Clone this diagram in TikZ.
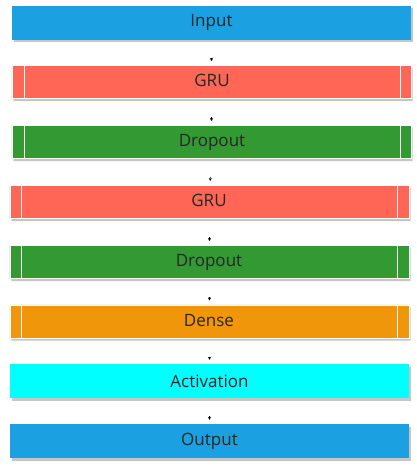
\documentclass[tikz,border=0pt]{standalone}
\usepackage{fontspec}
\setmainfont{Open Sans}
\usetikzlibrary{shapes,shadows,arrows.meta}
\definecolor{inblue}{RGB}{27,161,226}
\definecolor{grured}{RGB}{255,102,85}
\definecolor{dropgreen}{RGB}{51,153,51}
\definecolor{denseorange}{RGB}{240,150,10}
\definecolor{actcyan}{RGB}{0,255,255}

\begin{document}
\begin{tikzpicture}[x=1pt,y=-1pt,shorten >=4pt,shorten <=18pt,auto]
\tikzstyle{layer}=[rectangle,draw=none,minimum width=399pt,minimum height=34pt,inner sep=0pt,font=\fontsize{17}{19}\selectfont,text=black!85,drop shadow={shadow xshift=1.5pt,shadow yshift=-2.5pt,opacity=0.45}]
\tikzstyle{lsplit}=[rectangle split,rectangle split horizontal,rectangle split parts=3,draw=white,line width=0.6pt,inner sep=0pt,font=\fontsize{17}{19}\selectfont,text=black!85,drop shadow={shadow xshift=1.5pt,shadow yshift=-2.5pt,opacity=0.45}]
\newcommand{\midpart}[1]{\makebox[375pt]{\rule[-12pt]{0pt}{33.4pt}#1}}
\useasboundingbox (0,0) rectangle (416,469);

\node[layer,fill=inblue](In) at (211.5,22.5) {Input};
\node[lsplit,fill=grured](G1) at (211.5,82) {\hbox to 12pt{}\nodepart{two}\midpart{GRU}\nodepart{three}\hbox to 11pt{}};
\node[lsplit,fill=dropgreen](D1) at (211.5,142) {\hbox to 12pt{}\nodepart{two}\midpart{Dropout}\nodepart{three}\hbox to 11pt{}};
\node[lsplit,fill=grured](G2) at (209.5,202) {\hbox to 11pt{}\nodepart{two}\midpart{GRU}\nodepart{three}\hbox to 12pt{}};
\node[lsplit,fill=dropgreen](D2) at (209.5,262) {\hbox to 11pt{}\nodepart{two}\midpart{Dropout}\nodepart{three}\hbox to 12pt{}};
\node[lsplit,fill=denseorange](De) at (209.5,321.5) {\hbox to 11pt{}\nodepart{two}\midpart{Dense}\nodepart{three}\hbox to 12pt{}};
\node[layer,fill=actcyan](Ac) at (209.5,381) {Activation};
\node[layer,fill=inblue](Out) at (209.5,441) {Output};

\path (In) edge[-{Stealth[length=3pt,width=3pt]}] (G1) % tiny tips only
      (G1) edge[-{Stealth[length=3pt,width=3pt]}] (D1)
      (D1) edge[-{Stealth[length=3pt,width=3pt]}] (G2)
      (G2) edge[-{Stealth[length=3pt,width=3pt]}] (D2)
      (D2) edge[-{Stealth[length=3pt,width=3pt]}] (De)
      (De) edge[-{Stealth[length=3pt,width=3pt]}] (Ac)
      (Ac) edge[-{Stealth[length=3pt,width=3pt]}] (Out);

\end{tikzpicture}
\end{document}
